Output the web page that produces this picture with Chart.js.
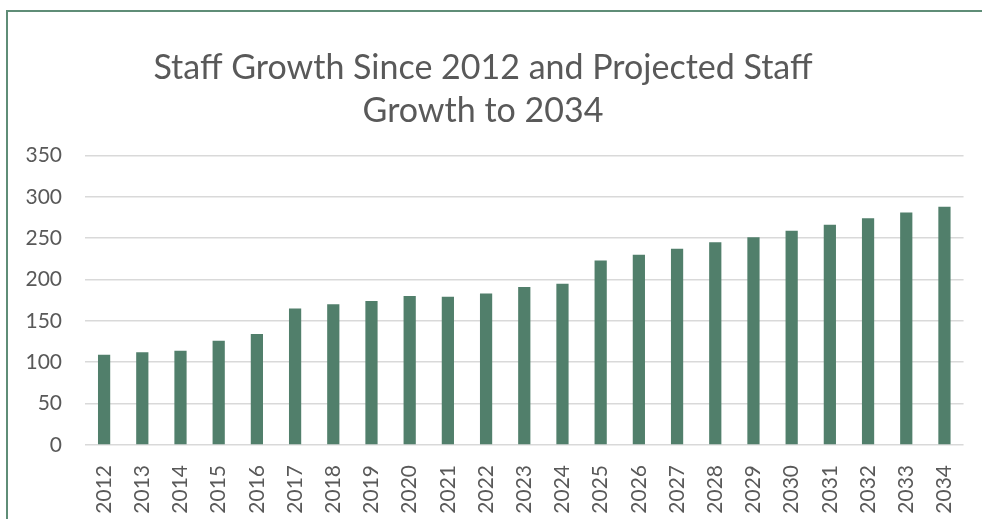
<!DOCTYPE html>
<html>
<head>
<meta charset="utf-8">
<script src="https://cdn.jsdelivr.net/npm/chart.js@4.4.1/dist/chart.umd.min.js"></script>
<style>
  html, body { margin: 0; padding: 0; background: #fff; overflow: hidden; }
  #frame {
    position: absolute; left: 6px; top: 10px; width: 2000px; height: 2000px;
    border-top: 2px solid #5F8D77; border-left: 2px solid #5F8D77;
  }
  #wrap { position: absolute; left: 0; top: 0; width: 982px; height: 519px; }
</style>
</head>
<body>
<div id="frame"></div>
<div id="wrap"><canvas id="chart-staff"></canvas></div>
<script>
const years = ['2012', '2013', '2014', '2015', '2016', '2017', '2018', '2019', '2020', '2021', '2022', '2023',
  '2024', '2025', '2026', '2027', '2028', '2029', '2030', '2031', '2032', '2033', '2034'];
const staff = [109, 112, 114, 126, 134, 165, 170, 174, 180, 179, 183, 191,
  195, 223, 230, 237, 245, 251, 259, 266, 274, 281, 288];
const titleLines = ['Staff Growth Since 2012 and Projected Staff', 'Growth to 2034'];

const textColor = '#595959';
const gridColor = '#D9D9D9';

new Chart(document.getElementById('chart-staff'), {
  type: 'bar',
  data: {
    labels: years,
    datasets: [
      { label: 'Staff', data: staff, backgroundColor: '#517F6B', barPercentage: 0.32, categoryPercentage: 1 }
    ]
  },
  options: {
    responsive: true,
    maintainAspectRatio: false,
    animation: false,
    layout: { padding: { left: 0, right: 16, top: 0, bottom: 0 } },
    plugins: {
      legend: { display: false },
      tooltip: { enabled: false },
      title: {
        display: true,
        text: titleLines,
        color: textColor,
        font: { family: 'Lato', size: 34, weight: 'normal', lineHeight: 1.27 },
        padding: { top: 46, bottom: 23 }
      }
    },
    scales: {
      x: {
        grid: { display: false },
        border: { display: false },
        ticks: {
          color: textColor,
          font: { family: 'Lato', size: 21 },
          minRotation: 90,
          maxRotation: 90,
          padding: 12
        },
        afterFit: (scale) => { scale.height = 74; }
      },
      y: {
        min: 0,
        max: 350,
        border: { display: false },
        grid: { color: gridColor, lineWidth: 1.5, drawTicks: false },
        ticks: {
          stepSize: 50,
          color: textColor,
          font: { family: 'Lato', size: 21 },
          padding: 23
        },
        afterFit: (scale) => { scale.width = 85; }
      }
    }
  }
});
</script>
</body>
</html>
